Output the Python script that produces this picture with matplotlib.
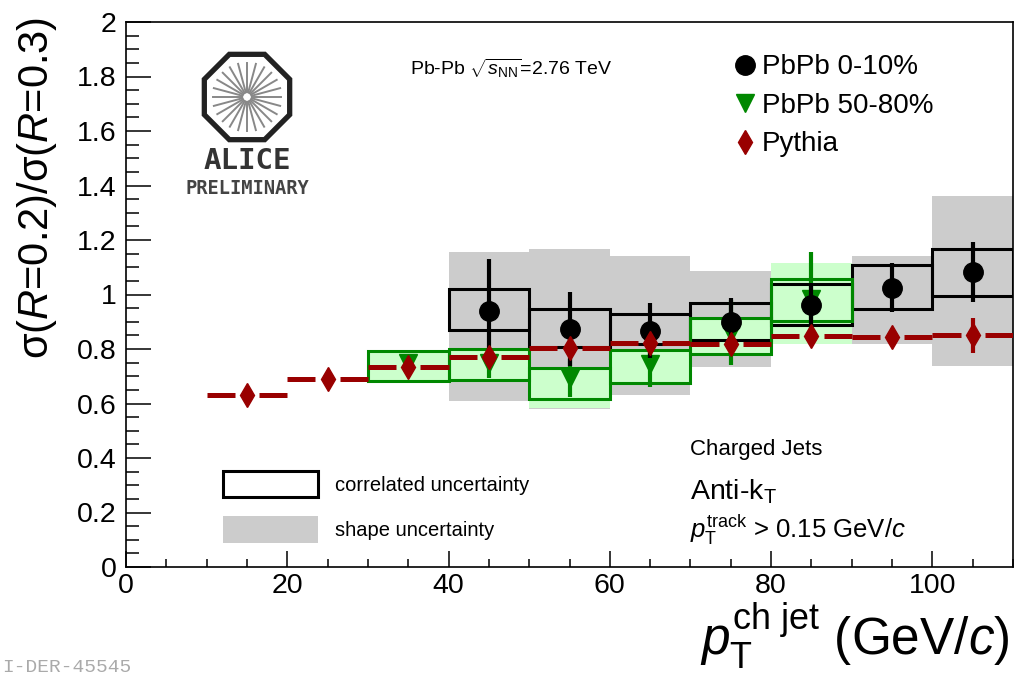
import numpy as np
import matplotlib
matplotlib.use("Agg")
from matplotlib import pyplot as plt
from matplotlib.patches import Polygon, Patch
from matplotlib.lines import Line2D

plt.rcParams['font.family'] = ['Liberation Sans', 'DejaVu Sans']
plt.rcParams['mathtext.fontset'] = 'custom'
plt.rcParams['mathtext.rm'] = 'Liberation Sans'
plt.rcParams['mathtext.it'] = 'Liberation Sans:italic'
plt.rcParams['mathtext.bf'] = 'Liberation Sans:bold'

###############################################################################
# data

# PbPb 0-10%
central_x = [45, 55, 65, 75, 85, 95, 105]
central_y = [0.94, 0.874, 0.867, 0.90, 0.962, 1.024, 1.082]
central_err = [0.19, 0.135, 0.10, 0.088, 0.08, 0.09, 0.11]
central_corr_lo = [0.87, 0.808, 0.82, 0.833, 0.888, 0.947, 0.994]
central_corr_hi = [1.02, 0.947, 0.928, 0.97, 1.038, 1.108, 1.166]
central_shape_lo = [0.61, 0.58, 0.63, 0.735, 0.83, 0.82, 0.738]
central_shape_hi = [1.155, 1.168, 1.14, 1.086, 1.11, 1.14, 1.36]

# PbPb 50-80%
periph_x = [35, 45, 55, 65, 75, 85]
periph_y = [0.75, 0.75, 0.695, 0.745, 0.86, 0.985]
periph_err = [0.02, 0.055, 0.07, 0.085, 0.12, 0.17]
periph_corr_lo = [0.684, 0.687, 0.618, 0.677, 0.782, 0.903]
periph_corr_hi = [0.793, 0.80, 0.73, 0.797, 0.914, 1.057]
periph_shape_lo = [0.684, 0.687, 0.585, 0.677, 0.782, 0.82]
periph_shape_hi = [0.793, 0.80, 0.73, 0.797, 0.914, 1.115]

# Pythia
pythia_x = [15, 25, 35, 45, 55, 65, 75, 85, 95, 105]
pythia_y = [0.633, 0.69, 0.735, 0.771, 0.802, 0.822, 0.817, 0.847, 0.843, 0.85]
pythia_err = [0.01, 0.01, 0.01, 0.01, 0.01, 0.015, 0.015, 0.02, 0.01, 0.065]

bin_width = 10.
x_ticks = [0, 20, 40, 60, 80, 100]
y_ticks = [0, 0.2, 0.4, 0.6, 0.8, 1, 1.2, 1.4, 1.6, 1.8, 2]
y_tick_labels = ['0', '0.2', '0.4', '0.6', '0.8', '1', '1.2', '1.4', '1.6', '1.8', '2']

###############################################################################

green = '#008800'
dark_red = '#990000'
light_green = '#ccffcc'
grey = '#cccccc'

W, H = 1015., 678.
fig = plt.figure(figsize=(W/100, H/100), dpi=100, facecolor='w')
ax = fig.add_axes([126/W, 1-567/H, 887/W, 545/H])

#---------------------------------------------------
# systematic boxes
ax.bar(central_x, np.subtract(central_shape_hi, central_shape_lo),
       bottom=central_shape_lo, width=bin_width, color=grey,
       edgecolor='none', zorder=1)
ax.bar(periph_x, np.subtract(periph_shape_hi, periph_shape_lo),
       bottom=periph_shape_lo, width=bin_width, color=light_green,
       edgecolor='none', zorder=1.5)
ax.bar(central_x, np.subtract(central_corr_hi, central_corr_lo),
       bottom=central_corr_lo, width=bin_width, facecolor='none',
       edgecolor='black', linewidth=2.2, zorder=2)
ax.bar(periph_x, np.subtract(periph_corr_hi, periph_corr_lo),
       bottom=periph_corr_lo, width=bin_width, facecolor='none',
       edgecolor=green, linewidth=2.2, zorder=2.5)

#---------------------------------------------------
# points
ax.errorbar(periph_x, periph_y, yerr=periph_err, fmt='v', color=green,
            markersize=13, elinewidth=3, capsize=0, zorder=3)
ax.errorbar(central_x, central_y, yerr=central_err, fmt='o', color='black',
            markersize=14, elinewidth=3, capsize=0, zorder=4)

# pythia: horizontal bin bars with a gap around the marker
gap = 1.5
px = np.array(pythia_x, dtype=float)
ax.hlines(pythia_y, px - bin_width/2, px - gap, color=dark_red,
          linewidth=3.6, zorder=5)
ax.hlines(pythia_y, px + gap, px + bin_width/2, color=dark_red,
          linewidth=3.6, zorder=5)
ax.errorbar(pythia_x, pythia_y, yerr=pythia_err, fmt='d', color=dark_red,
            markersize=12.5, elinewidth=3, capsize=0, zorder=6)

#---------------------------------------------------
# axes
ax.set_xlim(0, 110)
ax.set_ylim(0, 2)
ax.set_xticks(x_ticks)
ax.set_xticks(np.arange(0, 111, 5), minor=True)
ax.set_yticks(y_ticks)
ax.set_yticklabels(y_tick_labels)
ax.set_yticks(np.arange(0, 2.001, 0.05), minor=True)
ax.tick_params(axis='both', which='both', direction='in', width=1.1,
               labelsize=20.5, top=False, right=False)
ax.tick_params(axis='y', which='major', length=18, pad=7)
ax.tick_params(axis='y', which='minor', length=9)
ax.tick_params(axis='x', which='major', length=11.5, pad=4)
ax.tick_params(axis='x', which='minor', length=6)
for s in ax.spines.values():
    s.set_linewidth(1.2)

fig.text(37/W, 1-188/H, r'σ($R$=0.2)/σ($R$=0.3)', rotation=90,
         ha='center', va='center', fontsize=30)
fig.text(1010/W, 1-636/H, r'$p_{\mathrm{T}}^{\mathrm{ch\ jet}}$ (GeV/$c$)',
         ha='right', va='center', fontsize=37)

#---------------------------------------------------
# legends
h1 = [Line2D([], [], ls='none', marker='o', color='black', markersize=14),
      Line2D([], [], ls='none', marker='v', color=green, markersize=13),
      Line2D([], [], ls='none', marker='d', color=dark_red, markersize=12.5)]
leg1 = ax.legend(h1, ['PbPb 0-10%', 'PbPb 50-80%', 'Pythia'],
                 loc='upper left', bbox_to_anchor=(0.67, 0.966),
                 frameon=False, fontsize=20, handlelength=0.8,
                 handletextpad=0.2, labelspacing=0.45, borderpad=0)
ax.add_artist(leg1)

h2 = [Patch(facecolor='white', edgecolor='black', linewidth=2.2),
      Patch(facecolor=grey, edgecolor='none')]
ax.legend(h2, ['correlated uncertainty', 'shape uncertainty'],
          loc='upper left', bbox_to_anchor=(0.098, 0.195), frameon=False,
          fontsize=14.5, handlelength=4.7, handleheight=1.65,
          handletextpad=0.85, labelspacing=0.95, borderpad=0)

#---------------------------------------------------
# annotations
ax.text(35.2, 1.83, r'Pb-Pb $\sqrt{s_{\mathrm{NN}}}$=2.76 TeV', fontsize=14,
        va='center', ha='left')
ax.text(70, 0.43, 'Charged Jets', fontsize=16, va='center')
ax.text(70, 0.275, r'Anti-k$_{\mathrm{T}}$', fontsize=20.5, va='center')
ax.text(70, 0.136, r'$p_{\mathrm{T}}^{\mathrm{track}}$ > 0.15 GeV/$c$',
        fontsize=18.5, va='center')

# ALICE logo
logo = fig.add_axes([197/W, 1-147/H, 100/W, 100/H])
ang = np.deg2rad(22.5 + 45*np.arange(8))
logo.add_patch(Polygon(np.c_[0.97*np.cos(ang), 0.97*np.sin(ang)],
                       closed=True, fill=False, edgecolor='#222222',
                       linewidth=3.8))
for a in np.linspace(0, 2*np.pi, 24, endpoint=False):
    logo.plot([0.1*np.cos(a), 0.72*np.cos(a)], [0.1*np.sin(a), 0.72*np.sin(a)],
              color='#888888', linewidth=1.4)
logo.set_xlim(-1.05, 1.05)
logo.set_ylim(-1.05, 1.05)
logo.set_axis_off()
fig.text(247/W, 1-161/H, 'ALICE', ha='center', va='center', fontsize=21,
         family='DejaVu Sans Mono', weight='bold', color='#333333')
fig.text(247/W, 1-188/H, 'PRELIMINARY', ha='center', va='center',
         fontsize=13.5, family='DejaVu Sans Mono', weight='bold',
         color='#444444')

fig.text(2/W, 2/H, 'I-DER-45545', ha='left', va='bottom', fontsize=14,
         family='Liberation Mono', color='#aaaaaa')

fig.savefig('out.png', dpi=100)
plt.close(fig)
